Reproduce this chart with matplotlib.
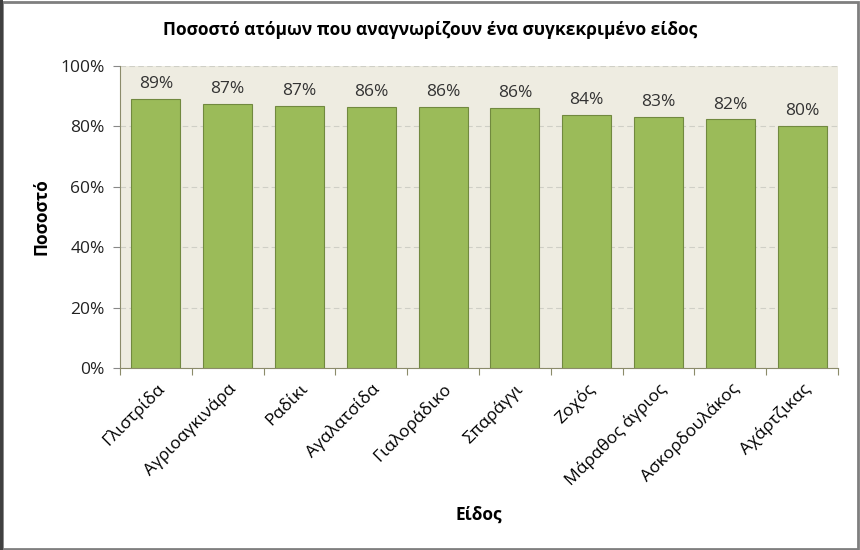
import matplotlib
matplotlib.use("Agg")
import matplotlib.pyplot as plt
import numpy as np
from matplotlib.patches import Rectangle
from matplotlib.ticker import PercentFormatter

species = ["Γλιστρίδα", "Αγριοαγκινάρα", "Ραδίκι", "Αγαλατσίδα", "Γιαλοράδικο",
           "Σπαράγγι", "Ζοχός", "Μάραθος άγριος", "Ασκορδουλάκος", "Αχάρτζικας"]
percent = [89.0, 87.3, 86.7, 86.4, 86.3, 86.1, 83.7, 83.2, 82.3, 80.1]
y_ticks = [0, 20, 40, 60, 80, 100]

plt.rcParams['font.family'] = ['Open Sans', 'DejaVu Sans']

fig = plt.figure(figsize=(8.6, 5.5), dpi=100)
ax = fig.add_axes([120/860, 1 - 368/550, (838-120)/860, (368-66)/550])

x = np.arange(len(species))
ax.bar(x, percent, width=0.68, color='#9bbb59', edgecolor='#71893f', linewidth=0.8, zorder=3)
for xi, v in zip(x, percent):
    ax.text(xi, v + 2.3, f"{round(v)}%", ha='center', va='bottom', fontsize=12.5, color='#333333')

ax.set_facecolor('#eeece1')
ax.set_xlim(-0.5, len(species) - 0.5)
ax.set_ylim(0, 100)
ax.set_yticks(y_ticks)
ax.yaxis.set_major_formatter(PercentFormatter(decimals=0))
ax.tick_params(axis='y', labelsize=12.5, length=5, color='#888888', labelcolor='#222222', pad=6)
ax.grid(axis='y', color='#cfcfc6', linestyle=(0, (5, 3)), linewidth=0.8, zorder=0)

ax.set_xticks(np.arange(len(species) + 1) - 0.5, minor=False)
ax.set_xticklabels([])
ax.set_xticks(x, minor=True)
ax.set_xticklabels(species, minor=True, rotation=45, ha='right', rotation_mode='anchor', fontsize=12.5)
ax.tick_params(axis='x', which='major', length=5, color='#8b8b6a')
ax.tick_params(axis='x', which='minor', length=0, pad=9)

for side in ['top', 'right']:
    ax.spines[side].set_visible(False)
ax.spines['left'].set_color('#8b8b6a')
ax.spines['bottom'].set_color('#8b8b6a')

ax.set_ylabel("Ποσοστό", fontsize=12.5, fontweight='bold')
ax.yaxis.set_label_coords(-0.097, 0.5)
ax.set_xlabel("Είδος", fontsize=12.5, fontweight='bold')
ax.xaxis.set_label_coords(0.5, -0.457)
fig.text(0.5, 1 - 30/550, "Ποσοστό ατόμων που αναγνωρίζουν ένα συγκεκριμένο είδος",
         ha='center', va='center', fontsize=12.5, fontweight='bold')

# chart frame
fig.patches.append(Rectangle((1.5/860, 1.5/550), 856/860, 547/550, transform=fig.transFigure,
                             fill=False, edgecolor='#7f7f7f', linewidth=2))
fig.patches.append(Rectangle((0, 0), 3/860, 1, transform=fig.transFigure,
                             color='#404040', linewidth=0))

fig.savefig("out.png", dpi=100)
